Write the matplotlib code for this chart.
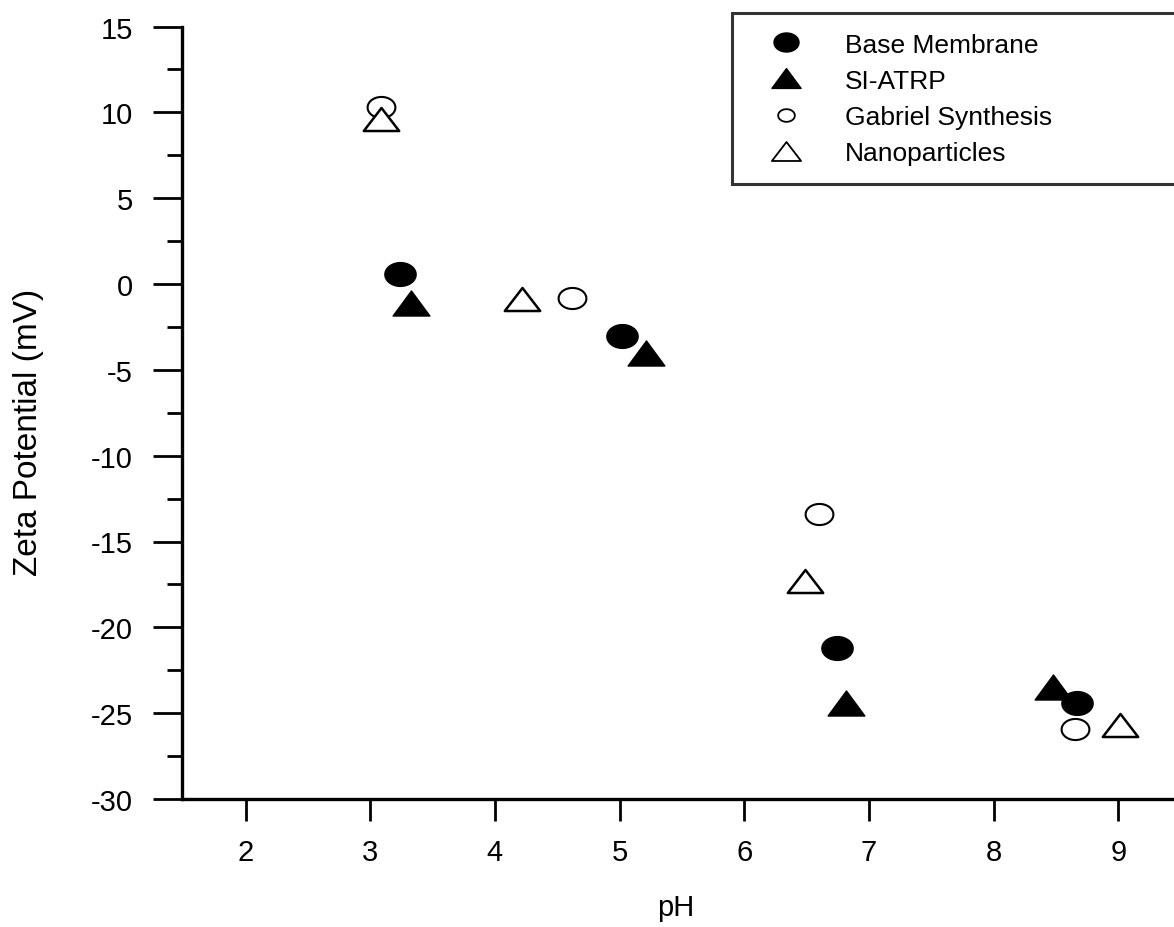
import numpy as np
import matplotlib
matplotlib.use("Agg")
import matplotlib.pyplot as plt
from matplotlib.path import Path
from matplotlib.lines import Line2D
from matplotlib.ticker import MultipleLocator, FixedLocator

# Zeta potential vs pH for each membrane stage
base_ph = [3.24, 5.02, 6.74, 8.67]
base_zeta = [0.6, -3.0, -21.2, -24.4]

atrp_ph = [3.33, 5.21, 6.82, 8.48]
atrp_zeta = [-1.1, -4.0, -24.4, -23.5]

gabriel_ph = [3.09, 4.62, 6.60, 8.65]
gabriel_zeta = [10.3, -0.8, -13.4, -25.9]

nano_ph = [3.09, 4.22, 6.49, 9.01]
nano_zeta = [9.6, -0.9, -17.3, -25.7]

series_labels = ["Base Membrane", "SI-ATRP", "Gabriel Synthesis", "Nanoparticles"]
x_ticks = [2, 3, 4, 5, 6, 7, 8, 9]
y_ticks = [15, 10, 5, 0, -5, -10, -15, -20, -25, -30]

plt.rcParams["font.family"] = ["Liberation Sans", "DejaVu Sans"]

# Wide ellipse and flat triangle marker shapes
theta = np.linspace(0, 2 * np.pi, 73)
ellipse = Path(np.column_stack([np.cos(theta), 0.76 * np.sin(theta)]), closed=True)
tri_filled = Path([(-1, -0.68), (1, -0.68), (0, 0.68), (-1, -0.68)], closed=True)
tri_open = Path([(-1, -0.65), (1, -0.65), (0, 0.65), (-1, -0.65)], closed=True)

W, H = 1174, 928
fig = plt.figure(figsize=(W / 100, H / 100), dpi=100)
ax_left, ax_bottom, ax_top = 181.5, 128, 900.5
ax = fig.add_axes([ax_left / W, ax_bottom / H, (W - ax_left) / W, (ax_top - ax_bottom) / H])

ax.plot(base_ph, base_zeta, ls="none", marker=ellipse, ms=22.5, mfc="black",
        mec="black", mew=1.0, clip_on=False, zorder=3)
ax.plot(atrp_ph, atrp_zeta, ls="none", marker=tri_filled, ms=26.5, mfc="black",
        mec="black", mew=1.0, clip_on=False, zorder=3)
ax.plot(gabriel_ph, gabriel_zeta, ls="none", marker=ellipse, ms=20, mfc="white",
        mec="black", mew=1.5, clip_on=False, zorder=3)
ax.plot(nano_ph, nano_zeta, ls="none", marker=tri_open, ms=25.5, mfc="white",
        mec="black", mew=1.8, clip_on=False, zorder=3)

ax.set_xlim(1.486, 9.447)
ax.set_ylim(-30, 15)
ax.xaxis.set_major_locator(FixedLocator(x_ticks))
ax.yaxis.set_major_locator(FixedLocator(y_ticks))
ax.yaxis.set_minor_locator(MultipleLocator(2.5))
ax.set_xticklabels([str(t) for t in x_ticks])
ax.set_yticklabels([str(t) for t in y_ticks])

for side in ("top", "right"):
    ax.spines[side].set_visible(False)
for side in ("left", "bottom"):
    ax.spines[side].set_linewidth(2.4)

ax.tick_params(axis="x", which="major", direction="out", length=16, width=2,
               pad=12, labelsize=21)
ax.tick_params(axis="y", which="major", direction="out", length=21, width=2,
               pad=14, labelsize=21)
ax.tick_params(axis="y", which="minor", direction="out", length=11, width=2)

ax_w = W - ax_left
ax_h = ax_top - ax_bottom
ax.set_xlabel("pH", fontsize=21)
ax.xaxis.set_label_coords((676 - ax_left) / ax_w, (H - 908 - ax_bottom) / ax_h)
ax.xaxis.label.set_verticalalignment("center")
ax.set_ylabel("Zeta Potential (mV)", fontsize=24)
ax.yaxis.set_label_coords((44 - ax_left) / ax_w, (H - 432 - ax_bottom) / ax_h)

handles = [
    Line2D([], [], ls="none", marker=ellipse, ms=18, mfc="black", mec="black", mew=1.0),
    Line2D([], [], ls="none", marker=tri_filled, ms=21, mfc="black", mec="black", mew=1.0),
    Line2D([], [], ls="none", marker=ellipse, ms=12, mfc="white", mec="black", mew=1.3),
    Line2D([], [], ls="none", marker=tri_open, ms=21, mfc="white", mec="black", mew=1.3),
]
leg = fig.legend(handles, series_labels, loc="upper left",
                 bbox_to_anchor=(732 / W, 0.5, 0.5, (H - 14) / H - 0.5),
                 bbox_transform=fig.transFigure, mode="expand", borderaxespad=0,
                 fontsize=19, frameon=True, fancybox=False, borderpad=0.74,
                 handlelength=2.6, handletextpad=0.93, labelspacing=0.46)
frame = leg.get_frame()
frame.set_edgecolor("black")
frame.set_linewidth(2.2)

fig.savefig("out.png", dpi=100, facecolor="white")
